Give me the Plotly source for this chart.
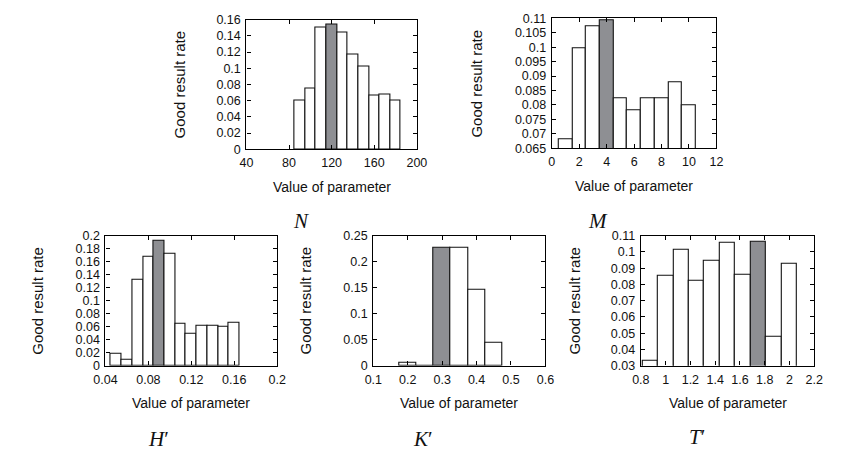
import plotly.graph_objects as go

W, H = 843, 456

# ---------------- data ----------------
n_x = [90, 100, 110, 120, 130, 140, 150, 160, 170, 180]
n_y = [0.060, 0.075, 0.150, 0.154, 0.144, 0.117, 0.102, 0.066, 0.067, 0.060]
n_best = 120

m_x = [1, 2, 3, 4, 5, 6, 7, 8, 9, 10]
m_y = [0.0682, 0.0996, 0.1074, 0.1094, 0.0822, 0.0781, 0.0822, 0.0822, 0.0880, 0.0800]
m_best = 4

h_x = [0.05, 0.06, 0.07, 0.08, 0.09, 0.10, 0.11, 0.12, 0.13, 0.14, 0.15, 0.16]
h_y = [0.019, 0.0085, 0.133, 0.167, 0.1925, 0.1726, 0.0647, 0.0498, 0.0607, 0.0607, 0.0597, 0.0667]
h_best = 0.09

k_x = [0.2, 0.25, 0.3, 0.35, 0.4, 0.45]
k_y = [0.006, 0.0, 0.227, 0.226, 0.147, 0.044]
k_best = 0.3

t_x = [0.875, 1.0, 1.125, 1.25, 1.375, 1.5, 1.625, 1.75, 1.875, 2.0]
t_y = [0.033, 0.0855, 0.1016, 0.0824, 0.0946, 0.1058, 0.086, 0.1066, 0.0478, 0.093]
t_best = 1.75

# tick labels
n_xticks = [40, 80, 120, 160, 200]
n_xlabels = ["40", "80", "120", "160", "200"]
n_yticks = [0, 0.02, 0.04, 0.06, 0.08, 0.10, 0.12, 0.14, 0.16]
n_ylabels = ["0", "0.02", "0.04", "0.06", "0.08", "0.1", "0.12", "0.14", "0.16"]

m_xticks = [0, 2, 4, 6, 8, 10, 12]
m_xlabels = ["0", "2", "4", "6", "8", "10", "12"]
m_yticks = [0.065, 0.07, 0.075, 0.08, 0.085, 0.09, 0.095, 0.1, 0.105, 0.11]
m_ylabels = ["0.065", "0.07", "0.075", "0.08", "0.085", "0.09", "0.095", "0.1", "0.105", "0.11"]

h_xticks = [0.04, 0.08, 0.12, 0.16, 0.2]
h_xlabels = ["0.04", "0.08", "0.12", "0.16", "0.2"]
h_yticks = [0, 0.02, 0.04, 0.06, 0.08, 0.1, 0.12, 0.14, 0.16, 0.18, 0.2]
h_ylabels = ["0", "0.02", "0.04", "0.06", "0.08", "0.1", "0.12", "0.14", "0.16", "0.18", "0.2"]

k_xticks = [0.1, 0.2, 0.3, 0.4, 0.5, 0.6]
k_xlabels = ["0.1", "0.2", "0.3", "0.4", "0.5", "0.6"]
k_yticks = [0, 0.05, 0.1, 0.15, 0.2, 0.25]
k_ylabels = ["0", "0.05", "0.1", "0.15", "0.2", "0.25"]

t_xticks = [0.8, 1.0, 1.2, 1.4, 1.6, 1.8, 2.0, 2.2]
t_xlabels = ["0.8", "1", "1.2", "1.4", "1.6", "1.8", "2", "2.2"]
t_yticks = [0.03, 0.04, 0.05, 0.06, 0.07, 0.08, 0.09, 0.1, 0.11]
t_ylabels = ["0.03", "0.04", "0.05", "0.06", "0.07", "0.08", "0.09", "0.1", "0.11"]

param_names = ["<i>N</i>", "<i>M</i>", "<i>H</i>\u2032", "<i>K</i>\u2032", "<i>T</i>\u2032"]

# ---------------- layout config ----------------
panels = [
    dict(x=n_x, y=n_y, best=n_best, w=10, xr=[40, 200], yr=[0, 0.16],
         xt=(n_xticks, n_xlabels), yt=(n_yticks, n_ylabels),
         box=(240.7, 415.7, 13, 146.7), ytx=171.5, name=(297, 221)),
    dict(x=m_x, y=m_y, best=m_best, w=1, xr=[0, 12], yr=[0.065, 0.11],
         xt=(m_xticks, m_xlabels), yt=(m_yticks, m_ylabels),
         box=(554.3, 723.3, 11.7, 145.7), ytx=476.7, name=(602, 221)),
    dict(x=h_x, y=h_y, best=h_best, w=0.01, xr=[0.04, 0.2], yr=[0, 0.2],
         xt=(h_xticks, h_xlabels), yt=(h_yticks, h_ylabels),
         box=(96, 272.3, 236, 370), ytx=26.7, name=(150, 446)),
    dict(x=k_x, y=k_y, best=k_best, w=0.05, xr=[0.1, 0.6], yr=[0, 0.25],
         xt=(k_xticks, k_xlabels), yt=(k_yticks, k_ylabels),
         box=(371, 547.7, 236, 370), ytx=301.7, name=(422, 446)),
    dict(x=t_x, y=t_y, best=t_best, w=0.125, xr=[0.8, 2.2], yr=[0.03, 0.11],
         xt=(t_xticks, t_xlabels), yt=(t_yticks, t_ylabels),
         box=(645.7, 823.7, 236, 370), ytx=578, name=(703, 444)),
]

GRAY = "#8e8f93"
FONT = "Liberation Sans, Arial, sans-serif"

fig = go.Figure()
annotations = []
layout = {}

for i, p in enumerate(panels):
    idx = "" if i == 0 else str(i + 1)
    colors = [GRAY if abs(xv - p["best"]) < 1e-9 else "white" for xv in p["x"]]
    fig.add_trace(go.Bar(
        x=p["x"], y=p["y"], width=p["w"],
        marker=dict(color=colors, line=dict(color="#111111", width=1.1)),
        xaxis="x" + idx, yaxis="y" + idx, showlegend=False,
        hoverinfo="x+y",
    ))
    l, r, t, b = p["box"]
    axis_common = dict(
        showline=True, linecolor="black", linewidth=1.3, mirror="allticks",
        ticks="inside", ticklen=4, tickcolor="black", tickwidth=1,
        showgrid=False, zeroline=False,
        tickfont=dict(family=FONT, size=12.5, color="#111111"),
    )
    layout["xaxis" + idx] = dict(
        axis_common, domain=[l / W, r / W], range=p["xr"],
        tickmode="array", tickvals=p["xt"][0], ticktext=p["xt"][1],
        anchor="y" + idx, ticklabelstandoff=2,
    )
    layout["yaxis" + idx] = dict(
        axis_common, domain=[1 - b / H, 1 - t / H], range=p["yr"],
        tickmode="array", tickvals=p["yt"][0], ticktext=p["yt"][1],
        anchor="x" + idx, ticklabelstandoff=2,
    )
    annotations.append(dict(
        text="Value of parameter", x=(l + r) / 2 / W, y=1 - (b + 39) / H,
        xref="paper", yref="paper", showarrow=False, xanchor="center", yanchor="middle",
        font=dict(family=FONT, size=14, color="#111111"),
    ))
    annotations.append(dict(
        text="Good result rate", x=p["ytx"] / W, y=1 - (t + b) / 2 / H,
        xref="paper", yref="paper", showarrow=False, xanchor="center", yanchor="middle",
        textangle=-90, font=dict(family=FONT, size=15, color="#111111"),
    ))
    nx, ny = p["name"]
    annotations.append(dict(
        text=param_names[i], x=nx / W, y=1 - ny / H,
        xref="paper", yref="paper", showarrow=False, xanchor="center", yanchor="middle",
        font=dict(family="Liberation Serif, DejaVu Serif, serif", size=21, color="#111111"),
    ))

fig.update_layout(
    width=W, height=H, margin=dict(l=0, r=0, t=0, b=0),
    paper_bgcolor="white", plot_bgcolor="white",
    bargap=0, annotations=annotations, **layout,
)

fig.write_html(
    "out.html",
    config={"displayModeBar": False},
    post_script="document.body.style.margin='0';document.body.style.overflow='hidden';",
)
